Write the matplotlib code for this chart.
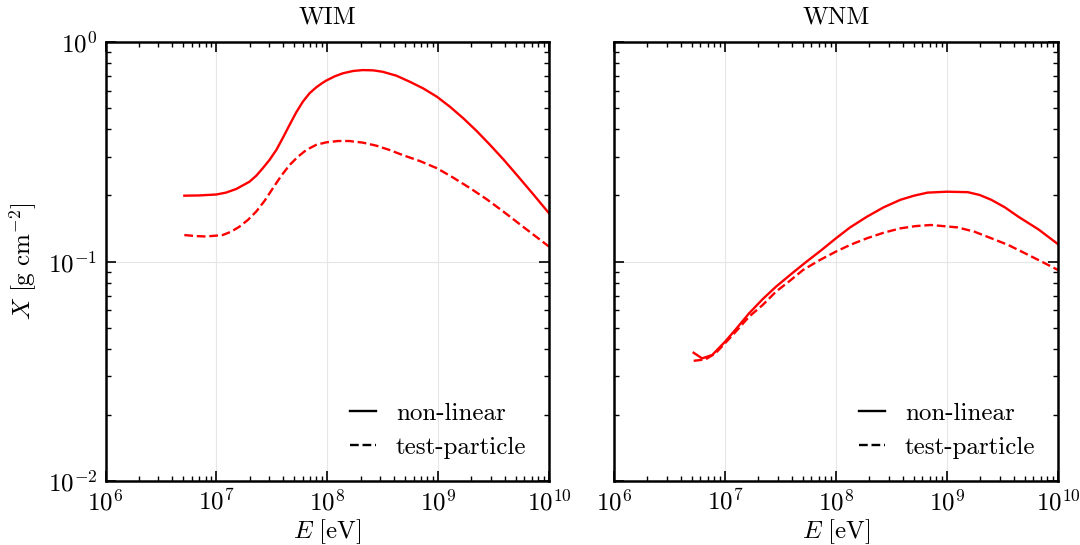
import matplotlib
matplotlib.use("Agg")
import matplotlib.pyplot as plt
from matplotlib.ticker import LogLocator, NullFormatter

plt.rcParams["font.family"] = "serif"
plt.rcParams["font.serif"] = ["cmr10", "DejaVu Serif"]
plt.rcParams["mathtext.fontset"] = "cm"
plt.rcParams["axes.formatter.use_mathtext"] = True

# WIM, non-linear
E_wim_nl = [5.14e6, 7.02e6, 1.0e7, 1.22e7, 1.51e7, 1.99e7, 2.29e7, 2.62e7, 3.01e7, 3.47e7,
            3.98e7, 4.57e7, 5.25e7, 6.03e7, 6.92e7, 7.94e7, 8.85e7, 9.77e7, 1.17e8, 1.38e8,
            1.71e8, 2.09e8, 2.59e8, 3.16e8, 4.22e8, 5.56e8, 7.33e8, 9.77e8, 1.28e9, 1.69e9,
            2.23e9, 2.94e9, 3.88e9, 5.13e9, 7.24e9, 1.0e10]
X_wim_nl = [0.1995, 0.200, 0.202, 0.206, 0.214, 0.231, 0.246, 0.266, 0.290, 0.322,
            0.366, 0.419, 0.478, 0.535, 0.584, 0.621, 0.646, 0.667, 0.698, 0.720,
            0.738, 0.745, 0.743, 0.732, 0.702, 0.659, 0.615, 0.563, 0.507, 0.449,
            0.393, 0.340, 0.292, 0.248, 0.202, 0.166]
# WIM, test-particle
E_wim_tp = [5.14e6, 6.55e6, 8.07e6, 1.14e7, 1.36e7, 1.61e7, 1.92e7, 2.29e7, 2.72e7, 3.24e7,
            3.85e7, 4.57e7, 5.43e7, 6.46e7, 7.94e7, 9.77e7, 1.25e8, 1.58e8, 2.10e8, 2.78e8,
            3.66e8, 4.83e8, 6.84e8, 9.77e8, 1.37e9, 1.94e9, 2.75e9, 3.87e9, 6.10e9, 1.0e10]
X_wim_tp = [0.132, 0.1306, 0.130, 0.132, 0.1368, 0.144, 0.1545, 0.169, 0.189, 0.216,
            0.246, 0.275, 0.300, 0.322, 0.340, 0.349, 0.354, 0.354, 0.348, 0.337,
            0.322, 0.305, 0.287, 0.266, 0.241, 0.216, 0.192, 0.169, 0.1416, 0.117]
# WNM, non-linear
E_wnm_nl = [5.22e6, 6.22e6, 7.67e6, 1.0e7, 1.25e7, 1.65e7, 2.18e7, 2.88e7, 3.95e7, 5.42e7,
            7.41e7, 1.0e8, 1.34e8, 1.90e8, 2.69e8, 3.80e8, 5.05e8, 6.68e8, 1.0e9, 1.54e9,
            1.97e9, 2.51e9, 3.32e9, 4.40e9, 6.68e9, 1.0e10]
X_wnm_nl = [0.0384, 0.0362, 0.0375, 0.0431, 0.0491, 0.0581, 0.0673, 0.0768, 0.0877, 0.0998,
            0.1128, 0.1276, 0.143, 0.160, 0.1766, 0.191, 0.1995, 0.206, 0.208, 0.207,
            0.201, 0.191, 0.1766, 0.160, 0.140, 0.120]
# WNM, test-particle
E_wnm_tp = [5.22e6, 6.67e6, 8.22e6, 1.0e7, 1.25e7, 1.65e7, 2.18e7, 2.88e7, 3.82e7, 5.05e7,
            7.16e7, 1.0e8, 1.34e8, 1.90e8, 2.69e8, 3.80e8, 5.22e8, 7.16e8, 1.25e9, 1.77e9,
            2.51e9, 3.56e9, 5.05e9, 7.16e9, 1.0e10]
X_wnm_tp = [0.0353, 0.0358, 0.0382, 0.0424, 0.0479, 0.0561, 0.0633, 0.0729, 0.0815, 0.0915,
            0.1016, 0.111, 0.119, 0.1276, 0.1353, 0.1416, 0.145, 0.1467, 0.143, 0.1367,
            0.1276, 0.119, 0.109, 0.0998, 0.0915]

panels = [
    ("WIM", E_wim_nl, X_wim_nl, E_wim_tp, X_wim_tp),
    ("WNM", E_wnm_nl, X_wnm_nl, E_wnm_tp, X_wnm_tp),
]

fig = plt.figure(figsize=(10.8, 5.45), dpi=100)
ax1 = fig.add_axes([0.0977, 0.1174, 0.4106, 0.8055])
ax2 = fig.add_axes([0.5685, 0.1174, 0.4111, 0.8055], sharey=ax1)
axes = [ax1, ax2]

for ax, (title, e_nl, x_nl, e_tp, x_tp) in zip(axes, panels):
    ax.plot(e_nl, x_nl, color="red", lw=1.7, ls="-")
    ax.plot(e_tp, x_tp, color="red", lw=1.7, ls="--")
    ax.plot([], [], color="black", lw=1.7, ls="-", label="non-linear")
    ax.plot([], [], color="black", lw=1.7, ls="--", label="test-particle")

    ax.set_xscale("log")
    ax.set_yscale("log")
    ax.set_xlim(1e6, 1e10)
    ax.set_ylim(1e-2, 1e0)
    ax.xaxis.set_major_locator(LogLocator(base=10, numticks=10))
    ax.xaxis.set_minor_locator(LogLocator(base=10, subs=range(2, 10), numticks=20))
    ax.xaxis.set_minor_formatter(NullFormatter())
    ax.yaxis.set_minor_formatter(NullFormatter())

    ax.grid(True, which="major", color="#e6e6e6", lw=0.8)
    ax.set_axisbelow(True)
    ax.tick_params(which="both", direction="in", top=True, right=True, labelsize=18)
    ax.tick_params(which="major", length=7, width=1.2, pad=6)
    ax.tick_params(which="minor", length=3.5, width=1.0)
    for s in ax.spines.values():
        s.set_linewidth(1.8)

    ax.set_title(title, fontsize=18, pad=13)
    ax.set_xlabel(r"$E\ [\mathrm{eV}]$", fontsize=18, labelpad=1)
    ax.legend(loc="lower right", frameon=False, fontsize=18, handlelength=1.05,
              handletextpad=0.8, labelspacing=0.45, borderaxespad=0.5)

ax1.set_ylabel(r"$X\ [\mathrm{g\ cm^{-2}}]$", fontsize=18, labelpad=6)
ax2.tick_params(labelleft=False)

plt.savefig("out.png", dpi=100)
